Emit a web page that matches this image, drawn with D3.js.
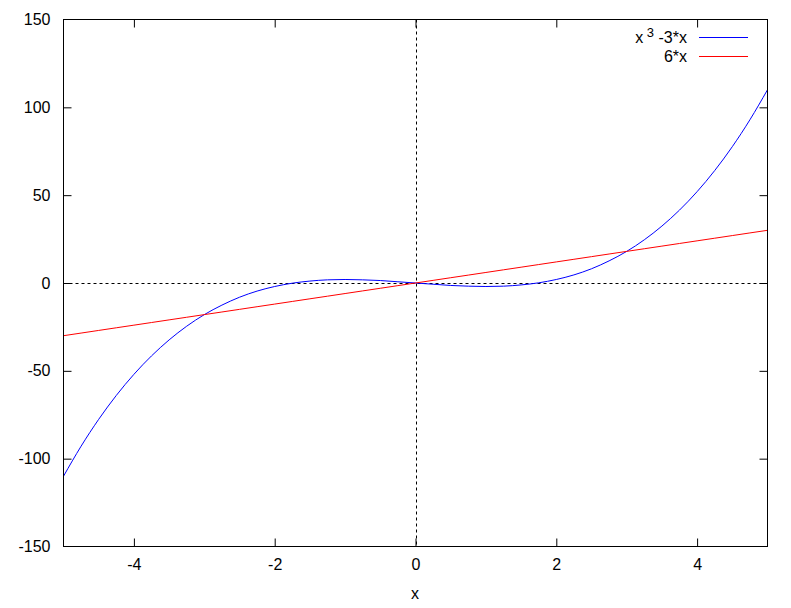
<!DOCTYPE html>
<html><head><meta charset="utf-8">
<script src="https://cdn.jsdelivr.net/npm/d3@7"></script>
<style>
body{margin:0;background:#fff;}
svg{display:block;font-family:"Liberation Sans",Arial,sans-serif;}
</style></head>
<body><svg id="c" width="791" height="608"></svg>
<script>
// Data
const xValues = [-5,-4.75,-4.5,-4.25,-4,-3.75,-3.5,-3.25,-3,-2.75,-2.5,-2.25,-2,-1.75,-1.5,-1.25,-1,-0.75,-0.5,-0.25,0,
  0.25,0.5,0.75,1,1.25,1.5,1.75,2,2.25,2.5,2.75,3,3.25,3.5,3.75,4,4.25,4.5,4.75,5];
const cubicValues = [-110,-92.9,-77.6,-64.0,-52,-41.5,-32.4,-24.6,-18,-12.6,-8.1,-4.6,-2,-0.1,1.1,1.8,2,1.8,1.4,0.7,0,
  -0.7,-1.4,-1.8,-2,-1.8,-1.1,0.1,2,4.6,8.1,12.6,18,24.6,32.4,41.5,52,64.0,77.6,92.9,110];
const linearValues = [-30,-28.5,-27,-25.5,-24,-22.5,-21,-19.5,-18,-16.5,-15,-13.5,-12,-10.5,-9,-7.5,-6,-4.5,-3,-1.5,0,
  1.5,3,4.5,6,7.5,9,10.5,12,13.5,15,16.5,18,19.5,21,22.5,24,25.5,27,28.5,30];
const xTicks = [-4,-2,0,2,4];
const yTicks = [-150,-100,-50,0,50,100,150];
const xLabel = "x";

const series = [
  {name:"cubic", values:cubicValues, color:"#0000ff"},
  {name:"linear", values:linearValues, color:"#ff0000"}
];

const L=63.5, R=767.5, T=19.5, B=546.5;
const svg=d3.select("#c");
const x=d3.scaleLinear().domain([-5,5]).range([L,R]);
const y=d3.scaleLinear().domain([-150,150]).range([B,T]);
const fs="16px";
const fmt = d => String(d);

// axes
const gl=svg.append("g").attr("transform",`translate(${L},0)`)
  .call(d3.axisLeft(y).tickValues(yTicks).tickFormat(fmt).tickSizeInner(-8).tickSizeOuter(0).tickPadding(13));
const gr=svg.append("g").attr("transform",`translate(${R},0)`)
  .call(d3.axisRight(y).tickValues(yTicks.slice(1,-1)).tickSizeInner(-8).tickSizeOuter(0).tickFormat(""));
const gb=svg.append("g").attr("transform",`translate(0,${B})`)
  .call(d3.axisBottom(x).tickValues(xTicks).tickFormat(fmt).tickSizeInner(-8).tickSizeOuter(0).tickPadding(12));
const gt=svg.append("g").attr("transform",`translate(0,${T})`)
  .call(d3.axisTop(x).tickValues(xTicks).tickSizeInner(-8).tickSizeOuter(0).tickFormat(""));
gl.selectAll(".tick").filter(d=>d===150||d===-150).select("line").remove();
[gl,gr,gb,gt].forEach(g=>{
  g.select(".domain").remove();
  g.selectAll("line").attr("stroke","#000").attr("stroke-width",1);
  g.selectAll("text").attr("fill","#000").style("font-size",fs).style("font-family",'"Liberation Sans",Arial,sans-serif');
});

// zero axes
svg.append("line").attr("x1",L).attr("x2",R).attr("y1",Math.round(y(0))+0.5).attr("y2",Math.round(y(0))+0.5)
  .attr("stroke","#000").attr("stroke-dasharray","3,3");
svg.append("line").attr("x1",Math.round(x(0))+0.5).attr("x2",Math.round(x(0))+0.5).attr("y1",T).attr("y2",B)
  .attr("stroke","#000").attr("stroke-dasharray","3,3");

// clip
svg.append("clipPath").attr("id","clip").append("rect").attr("x",L).attr("y",T).attr("width",R-L).attr("height",B-T);

const line=d3.line().x((d,i)=>x(xValues[i])).y(d=>y(d)).curve(d3.curveMonotoneX);
series.forEach(s=>{
  svg.append("path").attr("clip-path","url(#clip)").attr("d",line(s.values))
    .attr("fill","none").attr("stroke",s.color).attr("stroke-width",1);
});

// frame
svg.append("rect").attr("x",L).attr("y",T).attr("width",R-L).attr("height",B-T)
  .attr("fill","none").attr("stroke","#000").attr("stroke-width",1);

// x label
svg.append("text").attr("x",415).attr("y",598.5).attr("text-anchor","middle").style("font-size",fs).text(xLabel);

// legend
const lg=svg.append("g");
const t1=lg.append("text").attr("x",687).attr("y",42.5).attr("text-anchor","end").style("font-size",fs);
t1.append("tspan").text("x");
t1.append("tspan").attr("dy",-6).style("font-size","13px").text(" 3");
t1.append("tspan").attr("dy",6).text(" -3*x");
lg.append("line").attr("x1",699).attr("x2",748).attr("y1",37.5).attr("y2",37.5).attr("stroke","#0000ff");
lg.append("text").attr("x",687).attr("y",62).attr("text-anchor","end").style("font-size",fs).text("6*x");
lg.append("line").attr("x1",699).attr("x2",748).attr("y1",56.5).attr("y2",56.5).attr("stroke","#ff0000");
</script></body></html>
